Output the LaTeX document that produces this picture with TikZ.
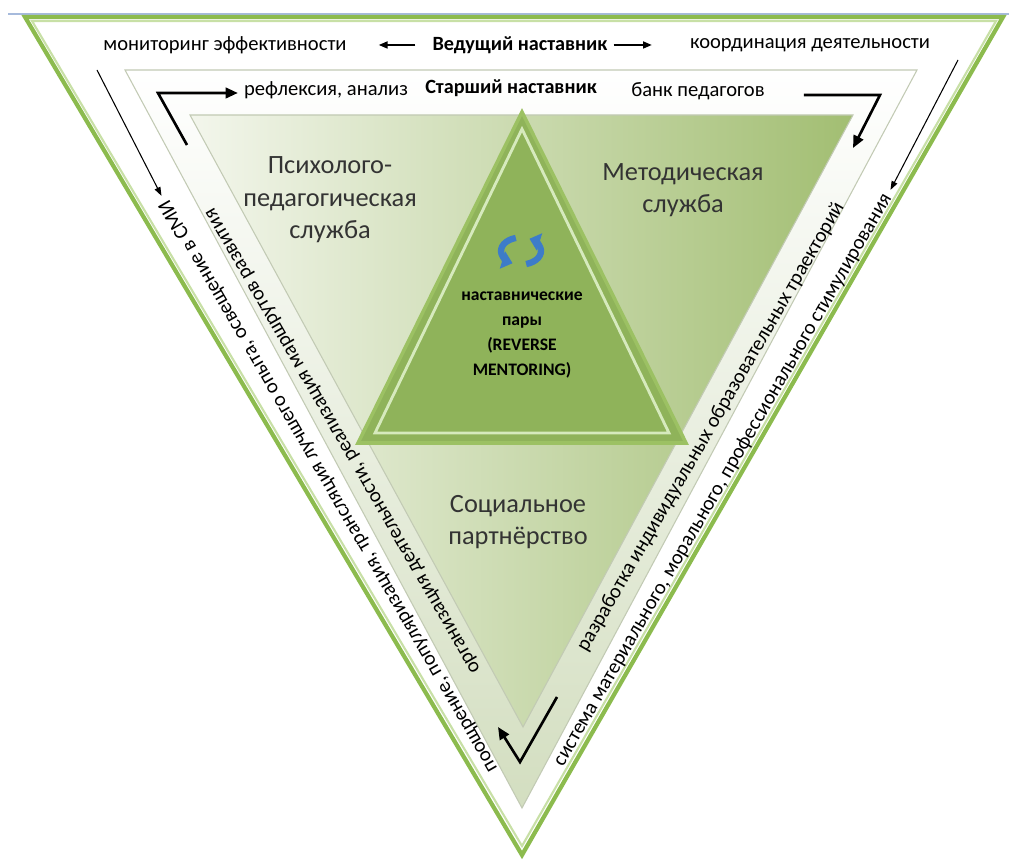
\documentclass[tikz,border=0pt]{standalone}
\usepackage{fontspec}
\setmainfont{Carlito}
\usepackage{tikz}
\usetikzlibrary{arrows.meta}

\definecolor{rimgreen}{HTML}{8CBB4E}
\definecolor{rimlight}{HTML}{C8E0A6}
\definecolor{topblue}{HTML}{A6BADC}
\definecolor{bandgrey}{HTML}{C2CAB4}
\definecolor{palegreen}{HTML}{D3DEC0}
\definecolor{shadelight}{HTML}{F3F6EC}
\definecolor{shadedark}{HTML}{A2BE72}
\definecolor{coregreen}{HTML}{8FB35A}
\definecolor{coreedge}{HTML}{9CC163}
\definecolor{corelight}{HTML}{D6EABD}
\definecolor{syncblue}{HTML}{3D7CC9}
\definecolor{labelgrey}{HTML}{333333}

\begin{document}
\begin{tikzpicture}[
    rowtext/.style={font=\fontsize{11.7}{14}\selectfont},
    chief/.style={font=\bfseries\fontsize{11.5}{14}\selectfont},
    area/.style={font=\fontsize{15}{18.5}\selectfont, align=center, text=labelgrey},
    pair/.style={font=\bfseries\fontsize{10}{14.2}\selectfont, align=center},
    rowarrow/.style={-{Triangle[length=5pt,width=4pt]}, line width=0.9pt},
    thinarrow/.style={-{Triangle[length=5pt,width=3.5pt]}, line width=0.6pt},
    bentarrow/.style={-{Triangle[length=7pt,width=6pt]}, line width=1.5pt},
    syncarrow/.style={-{Triangle[length=6pt,width=10pt]}, syncblue, line width=3.6pt}
]
\useasboundingbox (0,0) rectangle (20.18,17.26);

% frames
\draw[topblue, line width=1.6pt] (0.16,16.98) -- (20.18,16.98);
\draw[rimgreen, line width=2.4pt, fill=white] (0.5,16.92) -- (20.06,16.92) -- (10.44,0.16) -- cycle;
\draw[rimlight, line width=1.2pt] (0.64,16.84) -- (19.92,16.84) -- (10.44,0.34) -- cycle;
\draw[bandgrey, line width=0.6pt, top color=white, bottom color=palegreen] (2.5,15.86) -- (18.34,15.86) -- (10.44,1.1) -- cycle;
\draw[bandgrey, line width=0.6pt, left color=shadelight, right color=shadedark] (3.8,14.96) -- (17.06,14.96) -- (10.46,2.72) -- cycle;

% core
\draw[coreedge, line width=2pt, fill=coregreen] (10.44,15.02) -- (13.72,8.4) -- (7.16,8.4) -- cycle;
\draw[corelight, line width=1.6pt] (10.44,14.68) -- (13.38,8.6) -- (7.5,8.6) -- cycle;
\draw[syncarrow] (10.42,12.24) ++(105:0.4 and 0.27) arc[start angle=105, end angle=245, x radius=0.4, y radius=0.27];
\draw[syncarrow] (10.42,12.24) ++(285:0.4 and 0.27) arc[start angle=285, end angle=425, x radius=0.4, y radius=0.27];

% texts
\node[rowtext] (monitor) at (4.5,16.36) {мониторинг эффективности};
\node[chief] (lead) at (10.4,16.36) {Ведущий наставник};
\node[rowtext] (coord) at (16.2,16.36) {координация деятельности};
\node[rowtext] (reflex) at (6.52,15.46) {рефлексия, анализ};
\node[chief] (senior) at (10.22,15.5) {Старший наставник};
\node[rowtext] (bank) at (13.96,15.44) {банк педагогов};

\node[area] (psych) at (6.6,13.26) {Психолого-\\педагогическая\\служба};
\node[area] (method) at (13.66,13.46) {Методическая\\служба};
\node[area] (social) at (10.36,6.82) {Социальное\\партнёрство};
\node[pair] (pairs) at (10.44,10.56) {наставнические\\пары\\(REVERSE\\MENTORING)};

\node[rowtext, rotate=120] (promo) at (6.58,7.54) {поощрение, популяризация, трансляция лучшего опыта, освещение в СМИ};
\node[rowtext, rotate=120] (organize) at (6.88,8.46) {организация деятельности, реализация маршрутов развития};
\node[rowtext, rotate=60] (route) at (14.22,8.72) {разработка индивидуальных образовательных траекторий};
\node[rowtext, rotate=60] (reward) at (14.46,7.66) {система материального, морального, профессионального стимулирования};

% arrows
\draw[rowarrow, shorten <=0.22cm, shorten >=0.52cm] (lead.west) -- (monitor.east);
\draw[rowarrow, shorten >=0.64cm] (lead.east) -- (coord.west);

\coordinate (reflfoot) at (3.74,14.36);
\coordinate (reflknee) at (3.16,15.4);
\draw[bentarrow] (reflfoot) -- (reflknee) -- (reflknee -| reflex.west);

\coordinate (bankknee) at (17.6,15.36);
\coordinate (bankfoot) at (17.06,14.3);
\draw[bentarrow, shorten <=0.66cm] (bankknee -| bank.east) -- (bankknee) -- (bankfoot);

\coordinate (promotail) at (1.94,15.86);
\draw[thinarrow] (promotail) -- (promo.east);
\coordinate (rewardtail) at (19.16,16.06);
\draw[thinarrow] (rewardtail) -- (reward.east);

\coordinate (checktop) at (11.14,3.32);
\coordinate (checkbase) at (10.4,2.02);
\coordinate (checktip) at (9.96,2.72);
\draw[bentarrow] (checktop) -- (checkbase) -- (checktip);
\end{tikzpicture}
\end{document}
